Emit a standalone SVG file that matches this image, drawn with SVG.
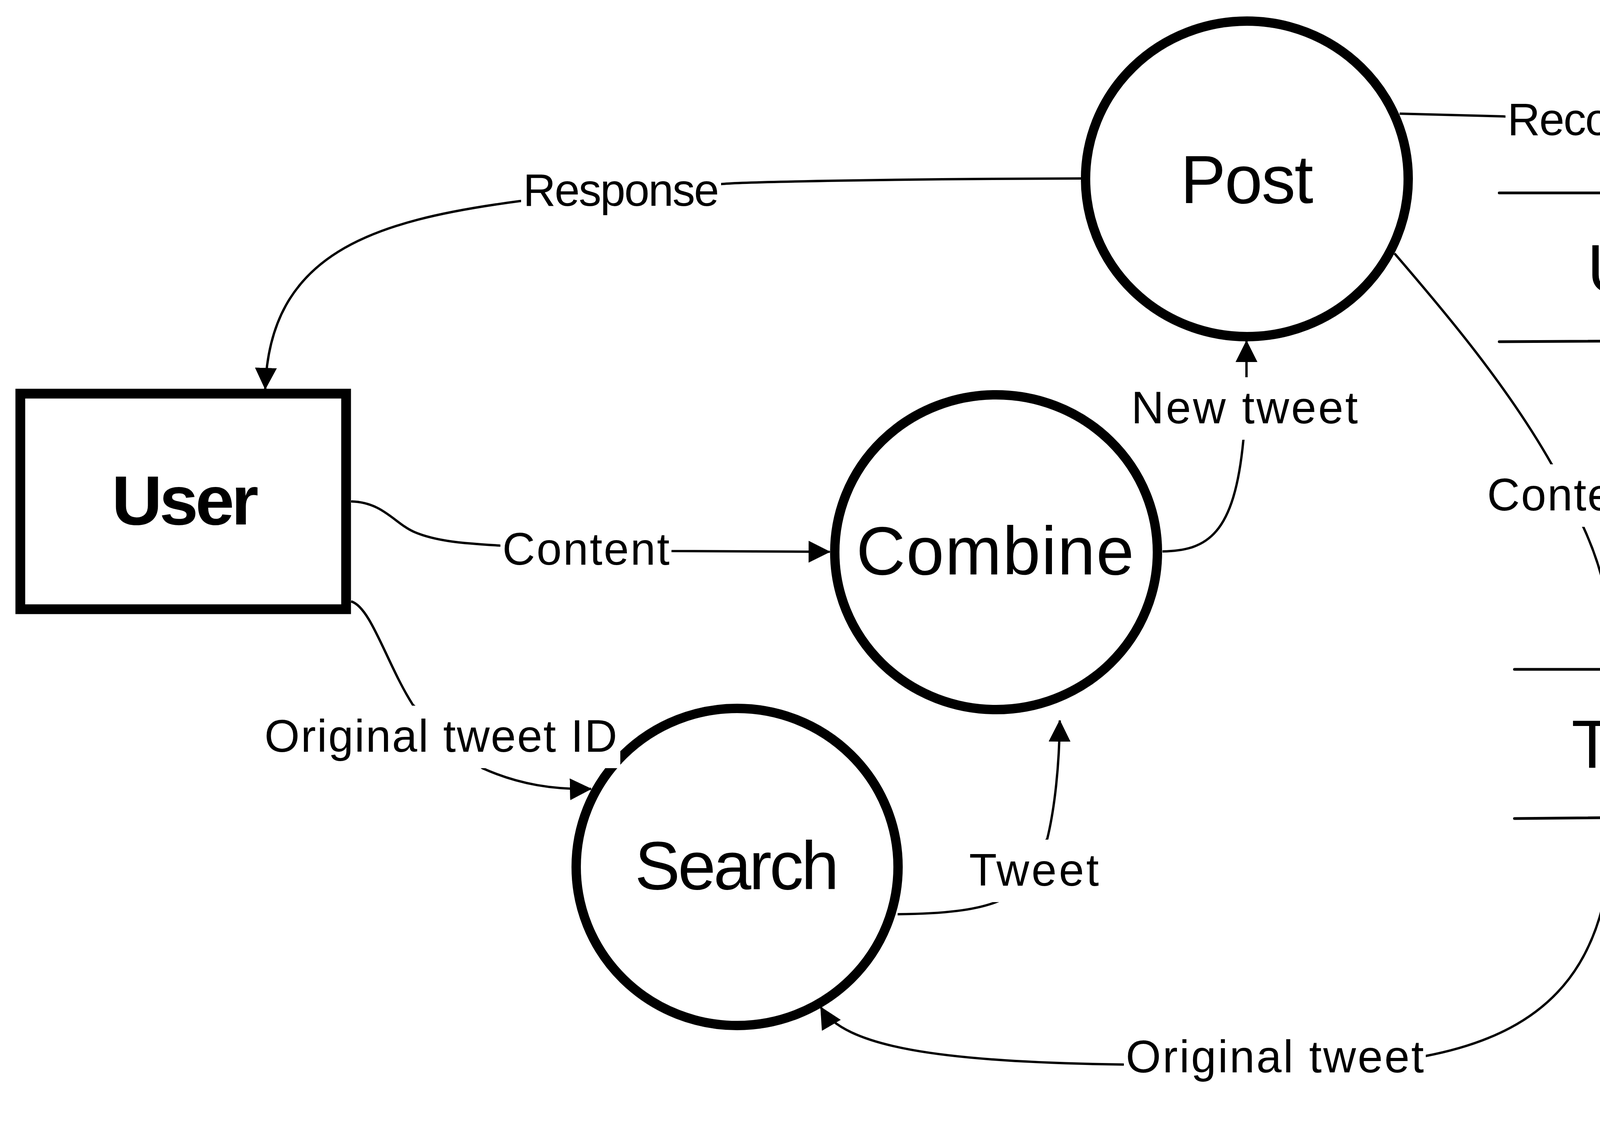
<svg xmlns="http://www.w3.org/2000/svg" width="5614" height="2891" viewBox="0 0 5614 2891">
<style>
.proc{fill:none;stroke:#000;stroke-width:24}
.ent{fill:#fff;stroke:#000;stroke-width:25}
.store{stroke:#000;stroke-width:7;stroke-linecap:round;fill:none}
.nt{font-family:"Liberation Sans",Arial,sans-serif;font-size:174px;fill:#000}
.bold{font-weight:bold;font-size:179px}
.flow{fill:none;stroke:#000;stroke-width:6}
.lbg{fill:#fff;stroke:none}
.lt{font-family:"Liberation Sans",Arial,sans-serif;font-size:116px;fill:#000}
</style>
<defs>
<marker id="arr" markerUnits="userSpaceOnUse" viewBox="0 0 56 56" markerWidth="56" markerHeight="56" refX="54" refY="28" orient="auto">
<path d="M0,0 L56,28 L0,56 z" fill="#000"/>
</marker>
</defs>
<rect width="5614" height="2891" fill="#fff"/>

<g id="node-user">
<rect class="ent" x="52" y="1008" width="834" height="552"/>
<text class="nt bold" x="286" y="1343" textLength="376" lengthAdjust="spacing">User</text>
</g>
<g id="node-post">
<ellipse class="proc" cx="3192" cy="458" rx="413" ry="404"/>
<text class="nt" x="3022" y="520" textLength="340" lengthAdjust="spacing">Post</text>
</g>
<g id="node-combine">
<ellipse class="proc" cx="2550" cy="1414" rx="413" ry="403"/>
<text class="nt" x="2192" y="1471" textLength="711" lengthAdjust="spacing">Combine</text>
</g>
<g id="node-search">
<ellipse class="proc" cx="1887" cy="2220" rx="412" ry="406"/>
<text class="nt" x="1625" y="2277" textLength="523" lengthAdjust="spacing">Search</text>
</g>
<g id="node-userdb">
<line class="store" x1="3838" y1="494" x2="5474" y2="494"/>
<line class="store" x1="3838" y1="875" x2="5531" y2="866"/>
<text class="nt" x="4063" y="748" textLength="1152" lengthAdjust="spacing">User Database</text>
</g>
<g id="node-tweetdb">
<line class="store" x1="3877" y1="1714" x2="5514" y2="1714"/>
<line class="store" x1="3877" y1="2096" x2="5573" y2="2081"/>
<text class="nt" x="4023" y="1966" textLength="1299" lengthAdjust="spacing">Tweet Database</text>
</g>

<g id="connectors">
<g id="flow-response">
<path class="flow" marker-end="url(#arr)" d="M2768 457 C2300 458 1900 466 1850 471 L1330 515 C950 565 690 650 679 996"/>
<rect class="lbg" x="1334" y="409" width="512" height="160"/>
<text class="lt" x="1339" y="527" textLength="502" lengthAdjust="spacing">Response</text>
</g>
<g id="flow-record">
<path class="flow" marker-end="url(#arr)" d="M3583 291 L3848 298 L4230 331 C4340 355 4395 420 4400 512"/>
<rect class="lbg" x="3854" y="228" width="372" height="160"/>
<text class="lt" x="3859" y="346" textLength="362" lengthAdjust="spacing">Record</text>
</g>
<g id="flow-newtweet">
<path class="flow" marker-end="url(#arr)" d="M2976 1412 C3090 1410 3160 1370 3183 1127 L3191 965 L3191 873"/>
<rect class="lbg" x="2891" y="966" width="590" height="160"/>
<text class="lt" x="2896" y="1084" textLength="580" lengthAdjust="spacing">New tweet</text>
</g>
<g id="flow-content-db">
<path class="flow" marker-end="url(#arr)" d="M3570 649 C3700 800 3860 990 3973 1190 L4054 1351 C4095 1440 4133 1560 4128 1729"/>
<rect class="lbg" x="3802" y="1189" width="434" height="160"/>
<text class="lt" x="3807" y="1307" textLength="424" lengthAdjust="spacing">Content</text>
</g>
<g id="flow-content-user">
<path class="flow" marker-end="url(#arr)" d="M899 1284 C980 1286 1010 1340 1060 1362 C1120 1388 1200 1392 1279 1397 L1716 1411 L2124 1413"/>
<rect class="lbg" x="1281" y="1328" width="438" height="160"/>
<text class="lt" x="1286" y="1446" textLength="428" lengthAdjust="spacing">Content</text>
</g>
<g id="flow-origid">
<path class="flow" marker-end="url(#arr)" d="M899 1540 C950 1555 990 1700 1057 1805 L1235 1967 C1330 2010 1420 2022 1513 2020"/>
<rect class="lbg" x="672" y="1807" width="916" height="160"/>
<text class="lt" x="677" y="1925" textLength="903" lengthAdjust="spacing">Original tweet ID</text>
</g>
<g id="flow-tweet">
<path class="flow" marker-end="url(#arr)" d="M2298 2341 C2420 2340 2500 2330 2555 2308 L2681 2148 C2700 2070 2712 1960 2713 1845"/>
<rect class="lbg" x="2476" y="2150" width="342" height="160"/>
<text class="lt" x="2481" y="2268" textLength="332" lengthAdjust="spacing">Tweet</text>
</g>
<g id="flow-origtweet">
<path class="flow" marker-end="url(#arr)" d="M4129 2075 C4130 2450 3990 2640 3645 2705 L2879 2726 C2400 2720 2160 2680 2101 2579"/>
<rect class="lbg" x="2877" y="2628" width="773" height="160"/>
<text class="lt" x="2882" y="2746" textLength="763" lengthAdjust="spacing">Original tweet</text>
</g>
</g>
</svg>
